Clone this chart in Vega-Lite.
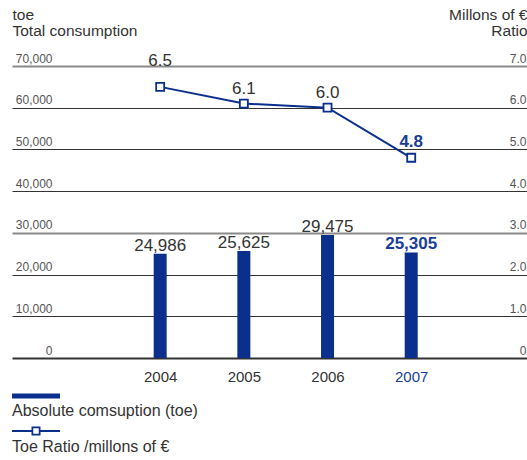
{
  "$schema": "https://vega.github.io/schema/vega-lite/v6.json",
  "width": 515,
  "height": 292,
  "autosize": "none",
  "padding": {"left": 12, "top": 66, "right": 0, "bottom": 102},
  "background": "white",
  "config": {"view": {"stroke": null}, "font": "Liberation Sans"},
  "datasets": {
    "toe": [
      {"year": 2004, "toe": 24986, "series": "Absolute comsuption (toe)"},
      {"year": 2005, "toe": 25625, "series": "Absolute comsuption (toe)"},
      {"year": 2006, "toe": 29475, "series": "Absolute comsuption (toe)"},
      {"year": 2007, "toe": 25305, "series": "Absolute comsuption (toe)"}
    ],
    "ratio": [
      {"year": 2004, "ratio": 6.5, "series": "Toe Ratio /millons of €"},
      {"year": 2005, "ratio": 6.1, "series": "Toe Ratio /millons of €"},
      {"year": 2006, "ratio": 6.0, "series": "Toe Ratio /millons of €"},
      {"year": 2007, "ratio": 4.8, "series": "Toe Ratio /millons of €"}
    ]
  },
  "encoding": {
    "x": {
      "field": "year",
      "type": "quantitative",
      "scale": {"domain": [2002.289, 2008.324], "nice": false, "zero": false},
      "axis": {
        "values": [2004, 2005, 2006, 2007],
        "format": "d",
        "domain": false,
        "ticks": false,
        "grid": false,
        "title": null,
        "labelPadding": 11,
        "labelFontSize": 15,
        "labelFont": "Liberation Sans",
        "labelColor": {"condition": {"test": "datum.value == 2007", "value": "#1a3d99"}, "value": "#333333"}
      }
    }
  },
  "layer": [
    {
      "data": {"name": "toe"},
      "encoding": {
        "y": {
          "field": "toe",
          "type": "quantitative",
          "scale": {"domain": [0, 70000], "nice": false},
          "axis": {
            "orient": "left",
            "values": [0, 10000, 20000, 30000, 40000, 50000, 60000, 70000],
            "format": ",.0f",
            "title": ["toe", "Total consumption"],
            "titleAngle": 0,
            "titleAlign": "left",
            "titleBaseline": "alphabetic",
            "titleX": 0,
            "titleY": -47,
            "titleFont": "Liberation Sans",
            "titleFontSize": 15.5,
            "titleFontWeight": "normal",
            "titleColor": "#333333",
            "titleLineHeight": 16,
            "labelAlign": "right",
            "labelBaseline": "alphabetic",
            "labelOffset": -4,
            "labelPadding": -40,
            "labelFont": "Liberation Sans",
            "labelFontSize": 12,
            "labelColor": "#555555",
            "ticks": false,
            "domain": false,
            "grid": true,
            "gridColor": {"condition": {"test": "datum.value == 30000 || datum.value == 70000", "value": "#8a8a8a"}, "value": "#333333"},
            "gridWidth": {"condition": {"test": "datum.value == 0 || datum.value == 30000 || datum.value == 70000", "value": 2}, "value": 1}
          }
        }
      },
      "layer": [
        {
          "mark": {"type": "bar", "size": 13},
          "encoding": {
            "color": {
              "field": "series",
              "type": "nominal",
              "scale": {"domain": ["Absolute comsuption (toe)", "Toe Ratio /millons of €"], "range": ["#0a2f8c", "#0a2f8c"]},
              "legend": {
                "orient": "none",
                "legendX": 0,
                "legendY": 337,
                "title": null,
                "direction": "vertical",
                "labelFont": "Liberation Sans",
                "labelFontSize": 16,
                "labelColor": "#333333",
                "labelLimit": 400,
                "symbolSize": 196,
                "symbolStrokeWidth": 0,
                "labelOffset": -16,
                "rowPadding": 7,
                "encode": {
                  "symbols": {
                    "update": {
                      "shape": {"signal": "datum.value === 'Absolute comsuption (toe)' ? 'M-1.143,-2.5H5.714V-1.786H-1.143Z' : 'M-1.143,-2.429H1.643V-2.143H-1.143ZM2.929,-2.429H5.714V-2.143H2.929ZM1.643,-2.929H2.929V-1.643H1.643ZM1.893,-2.679V-1.893H2.679V-2.679Z'"},
                      "fill": {"value": "#0a2f8c"},
                      "strokeWidth": {"value": 0},
                      "opacity": {"value": 1}
                    }
                  }
                }
              }
            }
          }
        },
        {
          "transform": [{"filter": "datum.year != 2007"}],
          "mark": {"type": "text", "baseline": "alphabetic", "dy": -3, "font": "Liberation Sans", "fontSize": 17, "color": "#333333"},
          "encoding": {"text": {"field": "toe", "type": "quantitative", "format": ",.0f"}}
        },
        {
          "transform": [{"filter": "datum.year == 2007"}],
          "mark": {"type": "text", "baseline": "alphabetic", "dy": -3, "font": "Liberation Sans", "fontSize": 17, "fontWeight": "bold", "color": "#1a3d99"},
          "encoding": {"text": {"field": "toe", "type": "quantitative", "format": ",.0f"}}
        }
      ]
    },
    {
      "data": {"name": "ratio"},
      "encoding": {
        "y": {
          "field": "ratio",
          "type": "quantitative",
          "scale": {"domain": [0, 7], "nice": false},
          "axis": {
            "orient": "right",
            "values": [0, 1, 2, 3, 4, 5, 6, 7],
            "labelExpr": "datum.value == 0 ? '0' : format(datum.value, '.1f')",
            "title": ["Millons of €", "Ratio"],
            "titleAngle": 0,
            "titleAlign": "right",
            "titleBaseline": "alphabetic",
            "titleX": 0,
            "titleY": -47,
            "titleFont": "Liberation Sans",
            "titleFontSize": 15.5,
            "titleFontWeight": "normal",
            "titleColor": "#333333",
            "titleLineHeight": 16,
            "labelAlign": "right",
            "labelBaseline": "alphabetic",
            "labelOffset": -4,
            "labelPadding": -1,
            "labelFont": "Liberation Sans",
            "labelFontSize": 12,
            "labelColor": "#555555",
            "ticks": false,
            "domain": false,
            "grid": false
          }
        }
      },
      "layer": [
        {
          "mark": {"type": "line", "strokeWidth": 2},
          "encoding": {"color": {"field": "series", "type": "nominal"}}
        },
        {
          "mark": {"type": "point", "shape": "square", "filled": true, "fill": "#ffffff", "stroke": "#0a2f8c", "strokeWidth": 1.8, "size": 64, "opacity": 1}
        },
        {
          "transform": [{"filter": "datum.year == 2004"}],
          "mark": {"type": "text", "baseline": "alphabetic", "dy": -21, "font": "Liberation Sans", "fontSize": 17, "color": "#333333"},
          "encoding": {"text": {"field": "ratio", "type": "quantitative", "format": ".1f"}}
        },
        {
          "transform": [{"filter": "datum.year == 2005 || datum.year == 2006"}],
          "mark": {"type": "text", "baseline": "alphabetic", "dy": -10, "font": "Liberation Sans", "fontSize": 17, "color": "#333333"},
          "encoding": {"text": {"field": "ratio", "type": "quantitative", "format": ".1f"}}
        },
        {
          "transform": [{"filter": "datum.year == 2007"}],
          "mark": {"type": "text", "baseline": "alphabetic", "dy": -11, "font": "Liberation Sans", "fontSize": 17, "fontWeight": "bold", "color": "#1a3d99"},
          "encoding": {"text": {"field": "ratio", "type": "quantitative", "format": ".1f"}}
        }
      ]
    }
  ],
  "resolve": {"scale": {"y": "independent"}}
}
